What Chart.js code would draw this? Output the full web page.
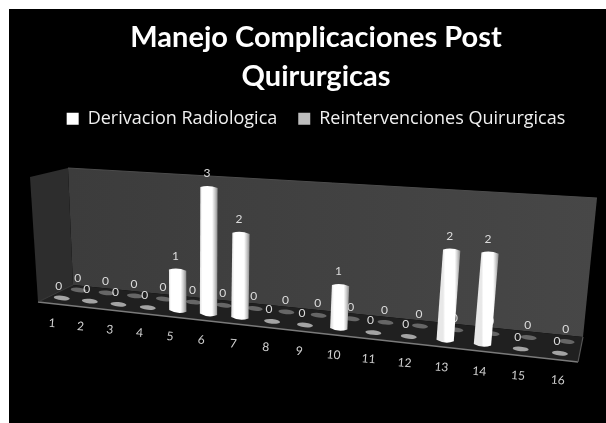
<!DOCTYPE html>
<html><head><meta charset="utf-8">
<style>
html,body{margin:0;padding:0;background:#fff;width:606px;height:423px;overflow:hidden}
#w{position:absolute;left:9px;top:9px;width:606px;height:423px;background:#000}
canvas{display:block;filter:blur(0.75px)}
</style>
<script src="https://cdn.jsdelivr.net/npm/chart.js@4"></script>
</head><body><div id="w"><canvas id="c" width="606" height="423"></canvas></div>
<script>
const categories = ['1','2','3','4','5','6','7','8','9','10','11','12','13','14','15','16'];
const derivacion = [0,0,0,0,1,3,2,0,0,1,0,0,2,2,0,0];
const reintervenciones = [0,0,0,0,0,0,0,0,0,0,0,0,0,0,0,0];
const titleLines = ['Manejo Complicaciones Post','Quirurgicas'];

const OFF = 9; // canvas offset inside the page
function homography(q){
  const [x0,y0]=q[0],[x1,y1]=q[1],[x2,y2]=q[2],[x3,y3]=q[3];
  const dx1=x1-x2,dx2=x3-x2,sx=x0-x1+x2-x3,dy1=y1-y2,dy2=y3-y2,sy=y0-y1+y2-y3;
  const den=dx1*dy2-dx2*dy1,g=(sx*dy2-dx2*sy)/den,h=(dx1*sy-sx*dy1)/den;
  const a=x1-x0+g*x1,b=x3-x0+h*x3,d=y1-y0+g*y1,e=y3-y0+h*y3;
  return (u,v)=>{const w=g*u+h*v+1;return [(a*u+b*v+x0)/w-OFF,(d*u+e*v+y0)/w-OFF];};
}
const front = homography([[48,296.5],[580,355.5],[596,212],[43,177]]);
const back  = homography([[65,288.5],[586,343.5],[600,202],[60,169]]);

const backWall=[[68,168],[597,198],[583,337],[73,285]];
const leftWall=[[30,177],[68,168],[73,285],[38,302]];
const floorQ=[[38,302],[73,285],[583,337],[578,362]];

function poly(ctx,pts,fill){
  ctx.beginPath();pts.forEach((p,i)=>i?ctx.lineTo(p[0]-OFF,p[1]-OFF):ctx.moveTo(p[0]-OFF,p[1]-OFF));
  ctx.closePath();if(fill){ctx.fillStyle=fill;ctx.fill();}
}
function seg(ctx,a,b,col,w){ctx.beginPath();ctx.moveTo(a[0]-OFF,a[1]-OFF);ctx.lineTo(b[0]-OFF,b[1]-OFF);ctx.strokeStyle=col;ctx.lineWidth=w;ctx.stroke();}

const scene3d={
  id:'scene3d',
  afterLayout(chart){
    const s=chart.scales.x;
    if(s.$patched)return; s.$patched=true;
    const orig=s._computeLabelItems.bind(s);
    s._computeLabelArea=()=>null;
    s._computeLabelItems=(ca)=>orig(ca).map(it=>{
      const a=chart.chartArea,u=(it.options.translation[0]-a.left)/a.width,p=front(u,0);
      it.options.translation=[p[0]-10+8*u,p[1]+25+2*u];
      it.options.rotation=0.08;
      it.options.textBaseline='middle';it.options.textAlign='center';
      it.textOffset=0;
      return it;
    });
  },
  beforeDraw(chart){
    const c=chart.ctx;
    c.save();
    c.fillStyle='#000';c.fillRect(0,0,chart.width,chart.height);
    let g=c.createLinearGradient(60,0,590,0);g.addColorStop(0,'#3c3c3c');g.addColorStop(1,'#474747');
    poly(c,backWall,g);
    poly(c,leftWall,'#2d2d2d');
    poly(c,floorQ,'#202020');
    seg(c,floorQ[0],floorQ[3],'#7a7a7a',1.6);
    seg(c,floorQ[2],floorQ[3],'#555',1.2);
    seg(c,backWall[0],backWall[1],'#4c4c4c',1);
    seg(c,leftWall[3],[73,285],'#444',0.8);
    c.restore();
  },
  beforeDatasetDraw(chart,{index,meta}){
    const c=chart.ctx,a=chart.chartArea,H=index===0?front:back,ds=chart.data.datasets[index];
    const U=x=>(x-a.left)/a.width,V=y=>(a.bottom-y)/a.height;
    c.save();
    meta.data.forEach((el,i)=>{
      const p=el.getProps(['x','y','base','width'],true);
      const ub=U(p.x),h=ds.data[i];
      const bot=H(ub,0),top=H(ub,V(p.y));
      if(h===0){
        c.beginPath();c.ellipse(bot[0],bot[1],8,2.3,0.1,0,Math.PI*2);
        c.fillStyle=index===0?'#a4a4a4':'#666666';c.fill();
      }else{
        const hw=p.width*0.42;
        const bl=[bot[0]-hw,bot[1]-0.8],br=[bot[0]+hw,bot[1]+0.8],tl=[top[0]-hw,top[1]-0.6],tr=[top[0]+hw,top[1]+0.6];
        const gr=c.createLinearGradient(tl[0],0,tr[0],0);
        gr.addColorStop(0,'#e8e8e8');gr.addColorStop(0.12,'#ffffff');gr.addColorStop(0.68,'#ffffff');gr.addColorStop(0.86,'#c4c4c4');gr.addColorStop(1,'#8c8c8c');
        c.beginPath();c.moveTo(tl[0],tl[1]);
        c.quadraticCurveTo((tl[0]+tr[0])/2,(tl[1]+tr[1])/2-3,tr[0],tr[1]);
        c.lineTo(br[0],br[1]);
        c.quadraticCurveTo((bl[0]+br[0])/2,(bl[1]+br[1])/2+4,bl[0],bl[1]);
        c.closePath();c.fillStyle=gr;c.fill();
      }
      c.font='12px Lato';c.textAlign='center';c.textBaseline='middle';
      c.fillStyle='#dcdcdc';
      const dx=h===0?(index===0?-3:-1):-2, dy=h===0?12:14;
      c.fillText(String(h),top[0]+dx,top[1]-dy);
    });
    c.restore();
    return false;
  }
};

new Chart(document.getElementById('c'),{
  type:'bar',
  data:{labels:categories,datasets:[
    {label:'Derivacion Radiologica',data:derivacion,backgroundColor:'#ffffff',barPercentage:0.55,categoryPercentage:1,grouped:false},
    {label:'Reintervenciones Quirurgicas',data:reintervenciones,backgroundColor:'#bdbdbd',barPercentage:0.55,categoryPercentage:1,grouped:false}
  ]},
  plugins:[scene3d],
  options:{
    responsive:false,animation:false,
    layout:{padding:{left:8,right:0,top:9,bottom:0}},
    scales:{
      x:{grid:{display:false},border:{display:false},ticks:{color:'#d0d0d0',font:{family:'Lato',size:12},maxRotation:0,autoSkip:false}},
      y:{display:false,min:0,max:3}
    },
    plugins:{
      title:{display:true,text:titleLines,color:'#ffffff',font:{family:'Lato',size:29,weight:'bold',lineHeight:1.34},padding:{top:0,bottom:-7}},
      legend:{display:true,position:'top',labels:{color:'#f0f0f0',boxWidth:12,boxHeight:12,padding:21,font:{family:'Open Sans',size:18}}},
      tooltip:{enabled:false}
    }
  }
});
</script></body></html>
